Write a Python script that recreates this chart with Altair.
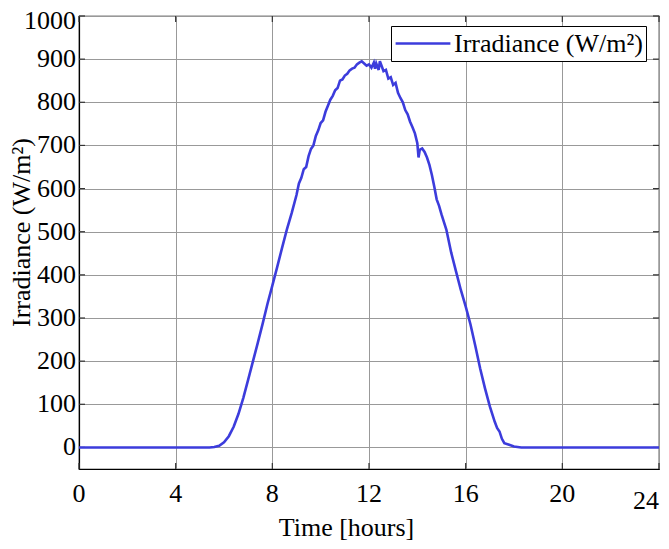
import altair as alt
import pandas as pd

hours = [0, 5.4, 5.6, 5.8, 6.0, 6.2, 6.4, 6.6, 6.8, 7.0, 7.2, 7.4, 7.6, 7.8, 8.0, 8.2, 8.4, 8.6, 8.8,
         9.0, 9.1, 9.2, 9.3, 9.4, 9.5, 9.6, 9.7, 9.8, 9.9, 10.0, 10.1, 10.2, 10.3, 10.4, 10.5, 10.6,
         10.7, 10.8, 10.9, 11.0, 11.1, 11.2, 11.3, 11.4, 11.5, 11.6, 11.7, 11.8, 11.9, 12.0, 12.1,
         12.2, 12.25, 12.3, 12.4, 12.45, 12.55, 12.6, 12.7, 12.8, 12.9, 13.0, 13.1, 13.2, 13.3, 13.4,
         13.5, 13.6, 13.7, 13.8, 13.9, 14.0, 14.05, 14.1, 14.2, 14.3, 14.4, 14.5, 14.6, 14.7, 14.8,
         14.9, 15.0, 15.2, 15.4, 15.6, 15.8, 16.0, 16.2, 16.4, 16.6, 16.8, 17.0, 17.2, 17.3, 17.4,
         17.5, 17.6, 17.8, 18.0, 18.3, 24]
irradiance = [0, 0, 1, 4, 12, 26, 48, 78, 115, 157, 200, 243, 287, 333, 375, 418, 462, 505, 543,
              585, 612, 625, 645, 650, 675, 692, 700, 722, 735, 752, 758, 778, 792, 806, 815, 828,
              833, 850, 853, 862, 866, 874, 878, 880, 888, 892, 895, 890, 885, 888, 880,
              892, 878, 890, 875, 895, 880, 872, 875, 855, 858, 840, 845, 822, 810, 800,
              782, 772, 755, 742, 728, 705, 672, 690, 693, 685, 672, 655, 632, 605, 575,
              560, 540, 505, 452, 408, 365, 327, 285, 235, 183, 137, 95, 60, 45, 37,
              20, 10, 6, 2, 0, 0]
series_name = "Irradiance (W/m²)"
x_ticks = [0, 4, 8, 12, 16, 20, 24]
y_ticks = list(range(0, 1001, 100))

W, H = 580, 453
FONT = "Liberation Serif"
FS = 26
LINE_COLOR = "#3c3cdc"

df = pd.DataFrame({"t": hours, "v": irradiance, "s": series_name})
xt = pd.DataFrame({"t": x_ticks, "lab": [str(v) for v in x_ticks]})
xt_main = xt[xt["t"] < 24]
xt_last = xt[xt["t"] == 24]
yt = pd.DataFrame({"v": y_ticks, "lab": [str(v) for v in y_ticks]})
yt_main = yt[yt["v"] < 1000]
yt_top = yt[yt["v"] == 1000]

xscale = alt.Scale(domain=[0, 24], nice=False)
yscale = alt.Scale(domain=[-50, 1000], nice=False, zero=False)

line = alt.Chart(df).mark_line(strokeWidth=2.6).encode(
    x=alt.X("t:Q", scale=xscale,
            axis=alt.Axis(values=x_ticks, title="Time [hours]", labels=False, ticks=False,
                          titleFont=FONT, titleFontSize=FS, titlePadding=45,
                          titleX=267, titleAlign="center")),
    y=alt.Y("v:Q", scale=yscale,
            axis=alt.Axis(values=y_ticks, title="Irradiance (W/m²)", labels=False, ticks=False,
                          titleFont=FONT, titleFontSize=FS, titlePadding=45,
                          titleY=216, titleAlign="center")),
    color=alt.Color("s:N", scale=alt.Scale(range=[LINE_COLOR]),
                    legend=alt.Legend(title=None, orient="none", legendX=312, legendY=10,
                                      symbolType="stroke", symbolSize=3000, symbolStrokeWidth=2.6,
                                      labelFontSize=FS, labelFont=FONT, strokeColor="black",
                                      fillColor="white", padding=3, cornerRadius=0,
                                      labelLimit=400, labelOffset=2, clipHeight=29)),
)

ylab = alt.Chart(yt_main).mark_text(font=FONT, fontSize=FS, align="right", baseline="middle",
                                    color="black", dx=-3).encode(
    x=alt.value(0), y=alt.Y("v:Q", scale=yscale), text="lab:N")

ylab_top = alt.Chart(yt_top).mark_text(font=FONT, fontSize=FS, align="right", baseline="middle",
                                       color="black", dx=-3, dy=5).encode(
    x=alt.value(0), y=alt.Y("v:Q", scale=yscale), text="lab:N")

xlab = alt.Chart(xt_main).mark_text(font=FONT, fontSize=FS, align="center", baseline="top",
                                    color="black").encode(
    x=alt.X("t:Q", scale=xscale), y=alt.value(H + 12), text="lab:N")

xlab_last = alt.Chart(xt_last).mark_text(font=FONT, fontSize=FS, align="right", baseline="top",
                                         color="black").encode(
    x=alt.X("t:Q", scale=xscale), y=alt.value(H + 19), text="lab:N")

tick_col = "#333333"
tl = alt.Chart(yt).mark_rule(color=tick_col, strokeWidth=1.2).encode(
    x=alt.value(0), x2=alt.value(6), y=alt.Y("v:Q", scale=yscale))
tr = alt.Chart(yt).mark_rule(color=tick_col, strokeWidth=1.2).encode(
    x=alt.value(W - 6), x2=alt.value(W), y=alt.Y("v:Q", scale=yscale))
tb = alt.Chart(xt).mark_rule(color=tick_col, strokeWidth=1.2).encode(
    y=alt.value(H - 6), y2=alt.value(H), x=alt.X("t:Q", scale=xscale))
tt = alt.Chart(xt).mark_rule(color=tick_col, strokeWidth=1.2).encode(
    y=alt.value(0), y2=alt.value(6), x=alt.X("t:Q", scale=xscale))

chart = alt.layer(tl, tr, tb, tt, line, ylab, ylab_top, xlab, xlab_last).properties(
    width=W, height=H,
    padding={"left": 71, "top": 8, "right": 1, "bottom": 76},
    autosize=alt.AutoSizeParams(type="none"),
).configure(font=FONT).configure_view(
    stroke="black", strokeWidth=1.2
).configure_axis(
    titleFont=FONT, titleColor="black", titleFontWeight="normal",
    gridColor="#999999", gridOpacity=1, gridWidth=1,
    domainColor="black", domainWidth=1.2
)

chart.save("out.html", embed_options={"renderer": "svg", "actions": False})
